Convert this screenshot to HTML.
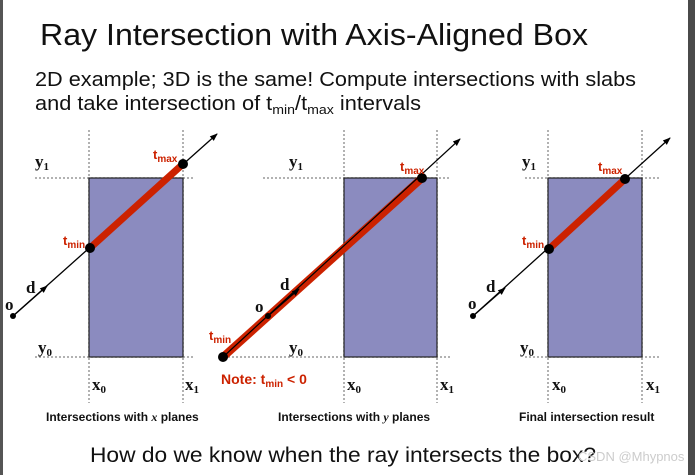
<!DOCTYPE html>
<html><head><meta charset="utf-8"><style>
html,body{margin:0;padding:0;background:#fff}
svg{display:block}
</style></head><body>
<svg width="695" height="475" viewBox="0 0 695 475" xmlns="http://www.w3.org/2000/svg" font-family="Liberation Sans, sans-serif">
<defs>
<marker id="ah" markerWidth="8" markerHeight="8" refX="7" refY="4" orient="auto" markerUnits="userSpaceOnUse"><path d="M0,1 L8,4 L0,7 Z" fill="#000"/></marker>
</defs>
<rect x="0" y="0" width="3" height="475" fill="#555"/>
<rect x="688" y="0" width="7" height="475" fill="#4a4a4a"/>
<text x="40" y="45" font-size="31" fill="#111" textLength="548" lengthAdjust="spacingAndGlyphs">Ray Intersection with Axis-Aligned Box</text>
<text x="35" y="86" font-size="20" fill="#111" textLength="601" lengthAdjust="spacingAndGlyphs">2D example; 3D is the same!  Compute intersections with slabs</text>
<text x="35" y="110" font-size="20" fill="#111" textLength="386" lengthAdjust="spacingAndGlyphs">and take intersection of t<tspan font-size="13" dy="4">min</tspan><tspan dy="-4">/t</tspan><tspan font-size="13" dy="4">max</tspan><tspan dy="-4"> intervals</tspan></text>

<g stroke="#999" stroke-width="1.5" stroke-dasharray="2,2">
<line x1="89" y1="130" x2="89" y2="403"/><line x1="183" y1="130" x2="183" y2="403"/>
<line x1="35" y1="178" x2="195" y2="178"/><line x1="35" y1="357" x2="195" y2="357"/>
<line x1="344" y1="130" x2="344" y2="403"/><line x1="437" y1="130" x2="437" y2="403"/>
<line x1="263" y1="178" x2="450" y2="178"/><line x1="228" y1="357" x2="450" y2="357"/>
<line x1="548" y1="130" x2="548" y2="403"/><line x1="642" y1="130" x2="642" y2="403"/>
<line x1="525" y1="178" x2="660" y2="178"/><line x1="525" y1="357" x2="660" y2="357"/>
</g>
<g fill="#8b8bbf" stroke="#222" stroke-width="1.2">
<rect x="89" y="178" width="94" height="179"/>
<rect x="344" y="178" width="93" height="179"/>
<rect x="548" y="178" width="94" height="179"/>
</g>

<line x1="13" y1="316" x2="217" y2="134" stroke="#000" stroke-width="1.3" marker-end="url(#ah)"/>
<line x1="13" y1="316" x2="47" y2="286" stroke="#000" stroke-width="1.3" marker-end="url(#ah)"/>
<line x1="90" y1="248" x2="183" y2="164" stroke="#cc2200" stroke-width="7"/>
<circle cx="13" cy="316" r="3" fill="#000"/>
<circle cx="90" cy="248" r="5" fill="#000"/><circle cx="183" cy="164" r="5" fill="#000"/>

<line x1="223" y1="357" x2="422" y2="178" stroke="#cc2200" stroke-width="8"/>
<line x1="223" y1="357" x2="460" y2="139" stroke="#000" stroke-width="1.2" marker-end="url(#ah)"/>
<line x1="268" y1="316" x2="299" y2="289" stroke="#000" stroke-width="1.3" marker-end="url(#ah)"/>
<circle cx="268" cy="316" r="3" fill="#000"/>
<circle cx="223" cy="357" r="5" fill="#000"/><circle cx="422" cy="178" r="5" fill="#000"/>

<line x1="473" y1="316" x2="670" y2="138" stroke="#000" stroke-width="1.3" marker-end="url(#ah)"/>
<line x1="473" y1="316" x2="505" y2="288" stroke="#000" stroke-width="1.3" marker-end="url(#ah)"/>
<line x1="549" y1="249" x2="625" y2="179" stroke="#cc2200" stroke-width="7"/>
<circle cx="473" cy="316" r="3" fill="#000"/>
<circle cx="549" cy="249" r="5" fill="#000"/><circle cx="625" cy="179" r="5" fill="#000"/>

<g font-family="Liberation Serif, serif" font-size="17" fill="#111" font-weight="bold">
<text x="35" y="167">y<tspan font-size="11" dy="3">1</tspan></text>
<text x="38" y="353">y<tspan font-size="11" dy="3">0</tspan></text>
<text x="92" y="390">x<tspan font-size="11" dy="3">0</tspan></text>
<text x="185" y="390">x<tspan font-size="11" dy="3">1</tspan></text>
<text x="5" y="310">o</text>
<text x="26" y="293">d</text>
<text x="289" y="167">y<tspan font-size="11" dy="3">1</tspan></text>
<text x="289" y="353">y<tspan font-size="11" dy="3">0</tspan></text>
<text x="347" y="390">x<tspan font-size="11" dy="3">0</tspan></text>
<text x="440" y="390">x<tspan font-size="11" dy="3">1</tspan></text>
<text x="255" y="312">o</text>
<text x="280" y="290">d</text>
<text x="522" y="167">y<tspan font-size="11" dy="3">1</tspan></text>
<text x="520" y="353">y<tspan font-size="11" dy="3">0</tspan></text>
<text x="552" y="390">x<tspan font-size="11" dy="3">0</tspan></text>
<text x="646" y="390">x<tspan font-size="11" dy="3">1</tspan></text>
<text x="468" y="309">o</text>
<text x="486" y="292">d</text>
</g>
<g fill="#cc2200" font-size="13" font-weight="bold">
<text x="153" y="159">t<tspan font-size="10" dy="3">max</tspan></text>
<text x="63" y="245">t<tspan font-size="10" dy="3">min</tspan></text>
<text x="400" y="171">t<tspan font-size="10" dy="3">max</tspan></text>
<text x="209" y="340">t<tspan font-size="10" dy="3">min</tspan></text>
<text x="598" y="171">t<tspan font-size="10" dy="3">max</tspan></text>
<text x="522" y="245">t<tspan font-size="10" dy="3">min</tspan></text>
<text x="221" y="384" font-size="14">Note:  t<tspan font-size="10" dy="3">min</tspan><tspan dy="-3"> &lt; 0</tspan></text>
</g>
<g font-size="12" font-weight="bold" fill="#111">
<text x="46" y="421">Intersections with <tspan font-style="italic" font-family="Liberation Serif, serif">x</tspan> planes</text>
<text x="278" y="421">Intersections with <tspan font-style="italic" font-family="Liberation Serif, serif">y</tspan> planes</text>
<text x="519" y="421">Final intersection result</text>
</g>
<text x="90" y="462" font-size="21" fill="#111" textLength="506" lengthAdjust="spacingAndGlyphs">How do we know when the ray intersects the box?</text>
<text x="578" y="461" font-size="13" fill="#ccc">CSDN @Mhypnos</text>
</svg>
</body></html>
